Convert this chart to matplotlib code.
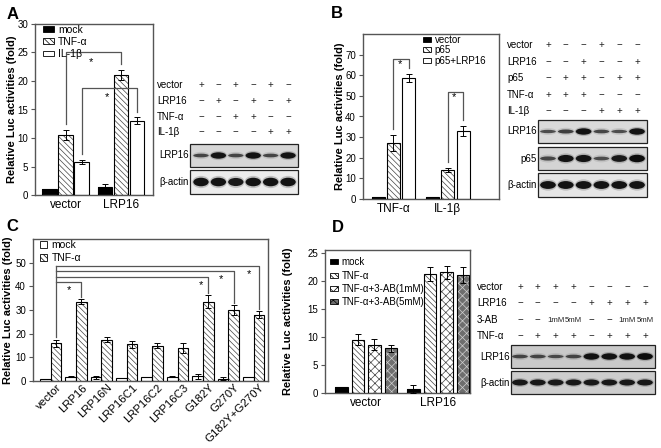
import matplotlib
matplotlib.use("Agg")
import numpy as np
import matplotlib.pyplot as plt
from matplotlib.patches import Rectangle, Ellipse, Patch

plt.rcParams['font.family'] = ['Liberation Sans', 'DejaVu Sans']
plt.rcParams['hatch.linewidth'] = 0.5

# ---------------- data ----------------
# panel A
a_groups = ['vector', 'LRP16']
a_mock = [1.0, 1.4]
a_mock_err = [0.0, 0.6]
a_tnf = [10.5, 21.0]
a_tnf_err = [0.9, 0.9]
a_il1b = [5.8, 13.0]
a_il1b_err = [0.4, 0.6]
a_sig_tops = [25.0, 18.8]          # tnf bracket, il-1b bracket
a_blot_rows = ['vector', 'LRP16', 'TNF-α', 'IL-1β']
a_blot_signs = [['+', '−', '+', '−', '+', '−'],
                ['−', '+', '−', '+', '−', '+'],
                ['−', '−', '+', '+', '−', '−'],
                ['−', '−', '−', '−', '+', '+']]
a_lrp16_bands = [0.55, 0.95, 0.55, 0.95, 0.55, 0.95]
a_actin_bands = [0.95, 0.95, 0.9, 0.95, 0.95, 0.95]

# panel B
b_groups = ['TNF-α', 'IL-1β']
b_vector = [1.0, 1.0]
b_vector_err = [0.0, 0.0]
b_p65 = [27.0, 14.0]
b_p65_err = [3.8, 1.0]
b_p65_lrp16 = [58.5, 33.0]
b_p65_lrp16_err = [2.0, 2.5]
b_sig_tops = [67.9, 52.1]
b_blot_rows = ['vector', 'LRP16', 'p65', 'TNF-α', 'IL-1β']
b_blot_signs = [['+', '−', '−', '+', '−', '−'],
                ['−', '−', '+', '−', '−', '+'],
                ['−', '+', '+', '−', '+', '+'],
                ['+', '+', '+', '−', '−', '−'],
                ['−', '−', '−', '+', '+', '+']]
b_lrp16_bands = [0.5, 0.6, 0.95, 0.55, 0.5, 0.95]
b_p65_bands = [0.55, 0.95, 0.95, 0.5, 0.9, 1.0]
b_actin_bands = [0.95, 0.95, 0.95, 0.95, 0.95, 0.95]

# panel C
c_groups = ['vector', 'LRP16', 'LRP16N', 'LRP16C1', 'LRP16C2', 'LRP16C3',
            'G182Y', 'G270Y', 'G182Y+G270Y']
c_mock = [1.0, 1.8, 1.5, 1.3, 1.7, 1.8, 2.0, 1.0, 1.7]
c_mock_err = [0.0, 0.3, 0.5, 0.1, 0.1, 0.3, 1.0, 0.7, 0.2]
c_tnf = [16.0, 33.5, 17.5, 15.5, 15.0, 14.0, 33.5, 30.0, 28.0]
c_tnf_err = [1.5, 1.0, 1.0, 1.5, 1.0, 2.0, 2.8, 2.0, 1.5]
c_sig_targets = [1, 6, 7, 8]
c_sig_tops = [41.8, 44.0, 46.5, 48.7]
c_star_frac = [0.5, 0.95, 0.93, 0.95]

# panel D
d_groups = ['vector', 'LRP16']
d_mock = [1.0, 0.7]
d_mock_err = [0.0, 0.7]
d_tnf = [9.5, 21.2]
d_tnf_err = [1.0, 1.2]
d_ab1 = [8.6, 21.5]
d_ab1_err = [1.0, 1.1]
d_ab5 = [8.0, 21.0]
d_ab5_err = [0.6, 1.4]
d_blot_rows = ['vector', 'LRP16', '3-AB', 'TNF-α']
d_blot_signs = [['+', '+', '+', '+', '−', '−', '−', '−'],
                ['−', '−', '−', '−', '+', '+', '+', '+'],
                ['−', '−', '1mM', '5mM', '−', '−', '1mM', '5mM'],
                ['−', '+', '+', '+', '−', '+', '+', '+']]
d_lrp16_bands = [0.55, 0.55, 0.5, 0.55, 0.95, 0.95, 0.95, 1.0]
d_actin_bands = [0.9, 0.9, 0.9, 0.9, 0.9, 0.9, 0.9, 0.9]

# ---------------- layout helpers ----------------
W, H = 661, 448
fig = plt.figure(figsize=(W / 100, H / 100), dpi=100)
ov = fig.add_axes([0, 0, 1, 1])
ov.set_xlim(0, W)
ov.set_ylim(H, 0)
ov.axis('off')

HATCH_DIAG = '\\' * 6
HATCH_X = 'x' * 4


def px_axes(x0, y0, x1, y1):
    return fig.add_axes([x0 / W, 1 - y1 / H, (x1 - x0) / W, (y1 - y0) / H])


def bar_series(ax, xs, vals, errs, width, face, hatch=None, hatch_color='#444'):
    ax.bar(xs, vals, width, color=face, edgecolor=hatch_color, hatch=hatch,
           linewidth=0, zorder=2)
    ax.bar(xs, vals, width, fill=False, edgecolor='black', linewidth=0.8, zorder=3)
    keep = [i for i, e in enumerate(errs) if e > 0]
    if keep:
        ax.errorbar([xs[i] for i in keep], [vals[i] for i in keep],
                    yerr=[errs[i] for i in keep], fmt='none', ecolor='black',
                    elinewidth=0.7, capsize=2.5, capthick=0.7, zorder=4)
    return Patch(facecolor=face, edgecolor='black', hatch=hatch, linewidth=0.6)


def style_axes(ax, ylim, yticks, labelx, xpad=3):
    ax.set_ylim(*ylim)
    ax.set_yticks(yticks)
    for s in ax.spines.values():
        s.set_color('#555')
        s.set_linewidth(1.0)
    ax.tick_params(axis='y', direction='out', length=3, width=0.8,
                   labelsize=7, pad=2, color='#555')
    ax.tick_params(axis='x', length=0, labelsize=8.5, pad=xpad)
    ax.set_ylabel('Relative Luc activities (fold)', fontsize=8, fontweight='bold')
    ax.yaxis.set_label_coords(labelx, 0.5)


def bracket(ax, x0, y0, x1, y1, top, star_x, star_off):
    ax.plot([x0, x0, x1, x1], [y0, top, top, y1], color='#555', lw=0.9, zorder=5)
    ax.annotate('*', xy=(star_x, top), xytext=(0, -star_off),
                textcoords='offset points', ha='center', va='center', fontsize=8)


def legend(ax, handles, labels, anchor, fs, hl, hh, sp):
    ax.legend(handles, labels, loc='upper left', bbox_to_anchor=anchor,
              frameon=False, fontsize=fs, handlelength=hl, handleheight=hh,
              labelspacing=sp, handletextpad=0.4, borderpad=0, borderaxespad=0)


def draw_blot(x0, x1, y_top, y_bot, lo, hi, rows, row_ys, signs, label_x, boxes):
    ax = px_axes(x0, y_top, x1, y_bot)
    ax.set_xlim(lo, hi)
    ax.set_ylim(y_bot, y_top)
    ax.axis('off')
    for name, y, row in zip(rows, row_ys, signs):
        ov.text(label_x, y, name, fontsize=7, ha='left', va='center')
        for i, s in enumerate(row):
            fs = 7 if len(s) == 1 else 5.6
            ax.text(i, y, s, fontsize=fs, ha='center', va='center', color='#222')
    for name, by0, by1, face, bands, bh, name_x in boxes:
        ax.add_patch(Rectangle((lo, by0), hi - lo, by1 - by0, facecolor=face,
                               edgecolor='#222', lw=0.9, clip_on=False))
        ov.text(name_x, (by0 + by1) / 2, name, fontsize=7, ha='right', va='center')
        yc = (by0 + by1) / 2
        for i, b in enumerate(bands):
            ax.add_patch(Ellipse((i, yc), 1.0, bh * (0.5 + 0.55 * b),
                                 facecolor='#555', alpha=0.3 * b, lw=0, clip_on=False))
            ax.add_patch(Ellipse((i, yc), 0.88, bh * b * 0.75,
                                 facecolor='#0d0d0d', alpha=min(1, 0.3 + 0.7 * b),
                                 lw=0, clip_on=False))


# ---------------- panel letters ----------------
for letter, (lx, ly) in {'A': (7, 19), 'B': (331, 18), 'C': (6, 231), 'D': (332, 232)}.items():
    ov.text(lx, ly, letter, fontsize=12, fontweight='bold', va='baseline')

# ---------------- panel A ----------------
axA = px_axes(35, 24, 153, 195)
xA = np.arange(len(a_groups))
pA, wA = 0.29, 0.27
hA = [bar_series(axA, xA - pA, a_mock, a_mock_err, wA, 'black'),
      bar_series(axA, xA, a_tnf, a_tnf_err, wA, 'white', HATCH_DIAG),
      bar_series(axA, xA + pA, a_il1b, a_il1b_err, wA, 'white')]
axA.set_xlim(-0.56, 1.58)
axA.set_xticks(xA)
axA.set_xticklabels(a_groups)
style_axes(axA, (0, 30), range(0, 31, 5), -0.155)
legend(axA, hA, ['mock', 'TNF-α', 'IL-1β'], (0.07, 0.995), 7.5, 1.0, 0.45, 0.2)
for k, (vals, errs) in enumerate([(a_tnf, a_tnf_err), (a_il1b, a_il1b_err)]):
    x0, x1 = xA[0] + k * pA, xA[1] + k * pA
    bracket(axA, x0, vals[0] + errs[0] + 1.0, x1, vals[1] + errs[1] + 1.0,
            a_sig_tops[k], (x0 + x1) / 2 - 0.05, 7)

draw_blot(190, 298, 78, 194, -0.63, 5.57, a_blot_rows, [85, 101, 117, 132],
          a_blot_signs, 157,
          [('LRP16', 144, 167, '#d6d6d6', a_lrp16_bands, 9, 189),
           ('β-actin', 170, 194, '#ececec', a_actin_bands, 12, 189)])

# ---------------- panel B ----------------
axB = px_axes(363, 34, 499, 199)
xB = np.arange(len(b_groups))
pB, wB = 0.28, 0.24
hB = [bar_series(axB, xB - pB, b_vector, b_vector_err, wB, 'black'),
      bar_series(axB, xB, b_p65, b_p65_err, wB, 'white', HATCH_DIAG),
      bar_series(axB, xB + pB, b_p65_lrp16, b_p65_lrp16_err, wB, 'white')]
axB.set_xlim(-0.56, 1.94)
axB.set_xticks(xB)
axB.set_xticklabels(b_groups)
style_axes(axB, (0, 80), range(0, 71, 10), -0.13)
legend(axB, hB, ['vector', 'p65', 'p65+LRP16'], (0.44, 0.995), 7, 0.8, 0.4, 0.05)
for g in range(len(b_groups)):
    x0, x1 = xB[g], xB[g] + pB
    bracket(axB, x0, b_p65[g] + b_p65_err[g] + 3, x1,
            b_p65_lrp16[g] + b_p65_lrp16_err[g] + 3, b_sig_tops[g],
            (x0 + x1) / 2 - 0.02, 4)

draw_blot(538, 647, 38, 197, -0.56, 5.56, b_blot_rows, [45, 62, 78, 95, 111],
          b_blot_signs, 507,
          [('LRP16', 120, 143, '#dadada', b_lrp16_bands, 9, 537),
           ('p65', 147, 170, '#d4d4d4', b_p65_bands, 10, 537),
           ('β-actin', 173, 197, '#e6e6e6', b_actin_bands, 11, 537)])

# ---------------- panel C ----------------
axC = px_axes(33, 239, 268, 381)
xC = np.arange(len(c_groups))
wC = 0.42
hC = [bar_series(axC, xC - wC / 2, c_mock, c_mock_err, wC, 'white'),
      bar_series(axC, xC + wC / 2, c_tnf, c_tnf_err, wC, 'white', HATCH_DIAG)]
axC.set_xlim(-0.69, 8.56)
axC.set_xticks(xC + 0.22)
axC.set_xticklabels(c_groups, rotation=45, ha='right', rotation_mode='anchor')
style_axes(axC, (0, 60), range(0, 51, 10), -0.085, xpad=1)
axC.tick_params(axis='x', labelsize=8.2)
legend(axC, hC, ['mock', 'TNF-α'], (0.03, 0.99), 7.5, 0.7, 0.7, 0.25)
xs0 = xC[0] + wC / 2
axC.plot([xs0, xs0], [c_tnf[0] + c_tnf_err[0] + 1, max(c_sig_tops)],
         color='#555', lw=0.9, zorder=5)
for t, top, fr in zip(c_sig_targets, c_sig_tops, c_star_frac):
    x1 = xC[t] + wC / 2
    bracket(axC, xs0, top, x1, c_tnf[t] + c_tnf_err[t] + 0.8, top,
            xs0 + fr * (x1 - xs0), 6)

# ---------------- panel D ----------------
axD = px_axes(325, 250, 470, 393)
xD = np.arange(len(d_groups))
pD, wD = 0.23, 0.175
hD = [bar_series(axD, xD - 1.5 * pD, d_mock, d_mock_err, wD, 'black'),
      bar_series(axD, xD - 0.5 * pD, d_tnf, d_tnf_err, wD, 'white', HATCH_DIAG),
      bar_series(axD, xD + 0.5 * pD, d_ab1, d_ab1_err, wD, 'white', HATCH_X),
      bar_series(axD, xD + 1.5 * pD, d_ab5, d_ab5_err, wD, '#6e6e6e', HATCH_X, '#cfcfcf')]
axD.set_xlim(-0.57, 1.44)
axD.set_xticks(xD)
axD.set_xticklabels(d_groups)
style_axes(axD, (0, 25.5), range(0, 26, 5), -0.22)
legend(axD, hD, ['mock', 'TNF-α', 'TNF-α+3-AB(1mM)', 'TNF-α+3-AB(5mM)'],
       (0.035, 0.95), 7, 0.8, 0.4, 0.35)

draw_blot(511, 655, 280, 394, -0.5, 7.56, d_blot_rows, [287, 303, 320, 336],
          d_blot_signs, 477,
          [('LRP16', 345, 368, '#c9c9c9', d_lrp16_bands, 9, 510),
           ('β-actin', 371, 394, '#cdcdcd', d_actin_bands, 9, 510)])

fig.savefig('out.png', dpi=100)
